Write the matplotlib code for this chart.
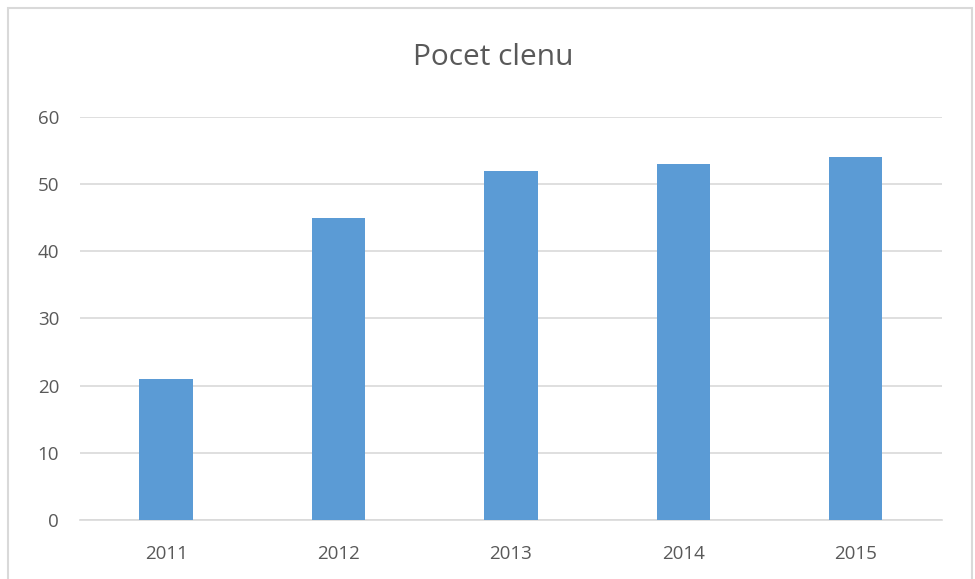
import matplotlib
matplotlib.use("Agg")
import matplotlib.pyplot as plt
import numpy as np
from matplotlib.patches import Rectangle

# =========================
# DATA
# =========================
years = ["2011", "2012", "2013", "2014", "2015"]
members = [21, 45, 52, 53, 54]

plt.rcParams["font.family"] = ["Open Sans", "DejaVu Sans"]

# =========================
# PLOT
# =========================
fig = plt.figure(figsize=(9.75, 5.79), dpi=100)
ax = fig.add_axes([0.082, 0.102, 0.884, 0.696])

x = np.arange(len(years))
ax.bar(x, members, width=0.31, color="#5b9bd5", zorder=3)

ax.set_xlim(-0.5, len(years) - 0.5)
ax.set_ylim(0, 60)
ax.set_yticks(range(0, 61, 10))
ax.set_xticks(x, years)
ax.yaxis.grid(True, color="#d9d9d9", linewidth=1.2, zorder=0)

for s in ["top", "right", "left"]:
    ax.spines[s].set_visible(False)
ax.spines["bottom"].set_color("#d9d9d9")
ax.spines["bottom"].set_linewidth(1.2)
ax.tick_params(axis="both", length=0, labelsize=13.5, colors="#595959")
ax.tick_params(axis="y", pad=15)
ax.tick_params(axis="x", pad=18)

fig.text(0.506, 0.9, "Pocet clenu", ha="center", va="center",
         fontsize=21.5, color="#595959")

# chart border
fig.patches.append(Rectangle((8 / 975, -0.05), 964 / 975, 1.036,
                             transform=fig.transFigure, fill=False,
                             edgecolor="#d9d9d9", linewidth=1.5))

fig.savefig("out.png", dpi=100)
